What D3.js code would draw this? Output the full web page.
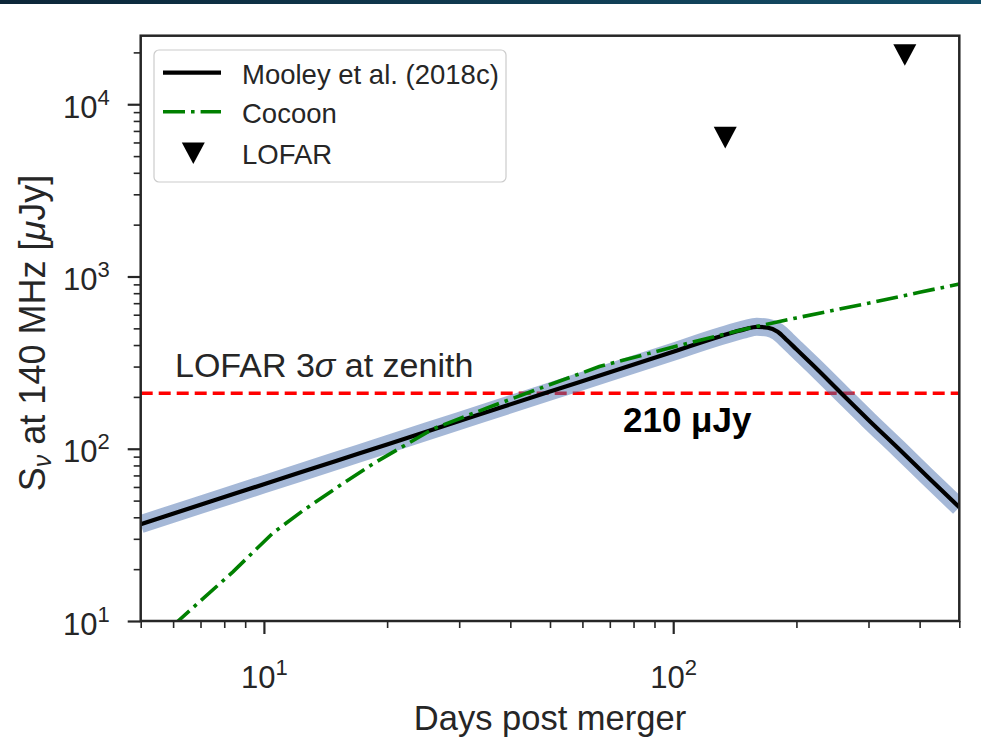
<!DOCTYPE html>
<html><head><meta charset="utf-8">
<script src="https://cdn.jsdelivr.net/npm/d3@7"></script>
<style>body{margin:0;background:#fff} svg{display:block}</style>
</head><body>
<script>
// ---- data ----
const mooleyDays = [5, 7, 10, 15, 20, 30, 50, 70, 100, 130, 150, 160, 170, 180, 190, 200, 220, 257, 300, 354, 420, 500];
const mooleyFlux = [36.5, 47.3, 62.2, 85, 106, 145, 215, 278, 366, 449, 495, 510, 505, 478, 425, 378, 304, 211, 147, 101, 68, 45.7];
const cocoonDays = [6.0, 6.2, 8.4, 10.5, 12.5, 15.3, 18.5, 22.3, 26, 35, 45, 66, 100, 155, 200, 300, 400, 500];
const cocoonFlux = [9.4, 10.1, 19.3, 32.3, 44, 61, 82, 106, 131, 172, 215, 300, 390, 505, 575, 700, 810, 905];
const lofarDays = [134, 368];
const lofarFlux = [6400, 19300];
const thresholdFlux = 210;
const xMajorTicks = [10, 100];
const xMajorExp = ["1", "2"];
const xMinorTicks = [5, 6, 7, 8, 9, 20, 30, 40, 50, 60, 70, 80, 90, 200, 300, 400, 500];
const yMajorTicks = [10, 100, 1000, 10000];
const yMajorExp = ["1", "2", "3", "4"];
const yMinorTicks = [20, 30, 40, 50, 60, 70, 80, 90, 200, 300, 400, 500, 600, 700, 800, 900,
                     2000, 3000, 4000, 5000, 6000, 7000, 8000, 9000, 20000];
const legendLabels = ["Mooley et al. (2018c)", "Cocoon", "LOFAR"];

// ---- layout ----
const W = 981, H = 739;
const L = 140.7, R = 959.3, T = 35.7, B = 621;
const FONT = "'Liberation Sans', Arial, Helvetica, sans-serif";
const TXT = "#262626";

const svg = d3.select("body").append("svg").attr("width", W).attr("height", H)
  .style("font-family", FONT);

// top banner strip
const defs = svg.append("defs");
const grad = defs.append("linearGradient").attr("id", "ban").attr("x1", 0).attr("x2", 1);
grad.append("stop").attr("offset", 0).attr("stop-color", "#0c2638");
grad.append("stop").attr("offset", 1).attr("stop-color", "#134e68");
svg.append("rect").attr("x", 0).attr("y", 0).attr("width", W).attr("height", 4).attr("fill", "url(#ban)");

defs.append("clipPath").attr("id", "clip").append("rect")
  .attr("x", L).attr("y", T).attr("width", R - L).attr("height", B - T);

const x = d3.scaleLog().domain([5, 500]).range([L, R]);
const y = d3.scaleLog().domain([10, 25000]).range([B, T]);

const plot = svg.append("g").attr("clip-path", "url(#clip)");

// threshold line
plot.append("line")
  .attr("x1", x(5)).attr("x2", x(500)).attr("y1", y(thresholdFlux)).attr("y2", y(thresholdFlux))
  .attr("stroke", "#ff0000").attr("stroke-width", 3.5).attr("stroke-dasharray", "12,6");

const mooley = mooleyDays.map((d, i) => [d, mooleyFlux[i]]);
const cocoon = cocoonDays.map((d, i) => [d, cocoonFlux[i]]);
const line = d3.line().x(d => x(d[0])).y(d => y(d[1])).curve(d3.curveMonotoneX);
const lineLin = d3.line().x(d => x(d[0])).y(d => y(d[1]));

plot.append("path").attr("d", line(mooley)).attr("fill", "none")
  .attr("stroke", "#4c72b0").attr("stroke-opacity", 0.5).attr("stroke-width", 18)
  .attr("stroke-linejoin", "round");
plot.append("path").attr("d", line(mooley)).attr("fill", "none")
  .attr("stroke", "#000").attr("stroke-width", 4.2).attr("stroke-linejoin", "round");
plot.append("path").attr("d", lineLin(cocoon)).attr("fill", "none")
  .attr("stroke", "#008000").attr("stroke-width", 3.6).attr("stroke-dasharray", "22,6,3.6,6");

// LOFAR upper limits: downward triangle marker (matplotlib 'v')
const vMarker = { draw(ctx, size) { const r = Math.sqrt(size) / 2;
  ctx.moveTo(-r, -r * 0.94); ctx.lineTo(r, -r * 0.94); ctx.lineTo(0, r * 0.94); ctx.closePath(); } };
const tri = d3.symbol().type(vMarker).size(23 * 23);
plot.selectAll("path.lofar").data(lofarDays.map((d, i) => [d, lofarFlux[i]])).join("path")
  .attr("class", "lofar").attr("d", tri)
  .attr("transform", d => `translate(${x(d[0])},${y(d[1])})`).attr("fill", "#000");

// annotations
svg.append("text").attr("x", 175).attr("y", 377).attr("font-size", 34).attr("fill", TXT)
  .call(t => {
    t.append("tspan").text("LOFAR 3");
    t.append("tspan").attr("font-style", "italic").text("σ");
    t.append("tspan").text(" at zenith");
  });
svg.append("text").attr("x", 623).attr("y", 432).attr("font-size", 35).attr("font-weight", "bold")
  .attr("fill", "#000").text("210 μJy");

// axes
const tickStyle = g => {
  g.select(".domain").remove();
  g.selectAll(".tick line").attr("stroke", "#262626");
};
function supLabel(sel, exps, anchor, dx, dy) {
  sel.each(function (d, i) {
    const t = d3.select(this).append("text").attr("fill", TXT).attr("font-size", 31)
      .attr("text-anchor", anchor).attr("x", dx).attr("y", dy);
    t.append("tspan").text("10");
    t.append("tspan").attr("dy", -13).attr("font-size", 22).text(exps[i]);
  });
}
const gxMinor = svg.append("g").attr("transform", `translate(0,${B})`)
  .call(d3.axisBottom(x).tickValues(xMinorTicks).tickSize(7).tickFormat(() => "")).call(tickStyle);
gxMinor.selectAll(".tick line").attr("stroke-width", 1.6);
const gxMajor = svg.append("g").attr("transform", `translate(0,${B})`)
  .call(d3.axisBottom(x).tickValues(xMajorTicks).tickSize(13).tickFormat(() => "")).call(tickStyle);
gxMajor.selectAll(".tick line").attr("stroke-width", 2.2);
gxMajor.selectAll(".tick text").remove();
supLabel(gxMajor.selectAll(".tick"), xMajorExp, "middle", 0, 67);

const gyMinor = svg.append("g").attr("transform", `translate(${L},0)`)
  .call(d3.axisLeft(y).tickValues(yMinorTicks).tickSize(7).tickFormat(() => "")).call(tickStyle);
gyMinor.selectAll(".tick line").attr("stroke-width", 1.6);
const gyMajor = svg.append("g").attr("transform", `translate(${L},0)`)
  .call(d3.axisLeft(y).tickValues(yMajorTicks).tickSize(13).tickFormat(() => "")).call(tickStyle);
gyMajor.selectAll(".tick line").attr("stroke-width", 2.2);
gyMajor.selectAll(".tick text").remove();
supLabel(gyMajor.selectAll(".tick"), yMajorExp, "end", -31, 13);

// frame
svg.append("rect").attr("x", L).attr("y", T).attr("width", R - L).attr("height", B - T)
  .attr("fill", "none").attr("stroke", "#262626").attr("stroke-width", 2.5);

// axis labels
svg.append("text").attr("x", (L + R) / 2).attr("y", 730).attr("text-anchor", "middle")
  .attr("font-size", 34.5).attr("fill", TXT).text("Days post merger");
svg.append("text").attr("transform", `translate(45,333) rotate(-90)`)
  .attr("text-anchor", "middle").attr("font-size", 36).attr("fill", TXT)
  .call(t => {
    t.append("tspan").text("S");
    t.append("tspan").attr("font-style", "italic").attr("font-size", 25).attr("dy", 6).text("ν");
    t.append("tspan").attr("dy", -6).text(" at 140 MHz [");
    t.append("tspan").attr("font-style", "italic").text("μ");
    t.append("tspan").text("Jy]");
  });

// legend
const lg = svg.append("g");
lg.append("rect").attr("x", 154).attr("y", 50).attr("width", 352).attr("height", 132).attr("rx", 5)
  .attr("fill", "#fff").attr("fill-opacity", 0.8).attr("stroke", "#cccccc").attr("stroke-width", 1.2);
const rowY = [72.7, 111.7, 153.3];
lg.append("line").attr("x1", 163).attr("x2", 221).attr("y1", rowY[0]).attr("y2", rowY[0])
  .attr("stroke", "#000").attr("stroke-width", 4.2);
lg.append("line").attr("x1", 163).attr("x2", 221).attr("y1", rowY[1]).attr("y2", rowY[1])
  .attr("stroke", "#008000").attr("stroke-width", 3.6).attr("stroke-dasharray", "22,6,3.6,6");
lg.append("path").attr("d", tri).attr("transform", `translate(193.3,${rowY[2]})`).attr("fill", "#000");
lg.selectAll("text.leg").data(legendLabels).join("text").attr("class", "leg")
  .attr("x", 242).attr("y", (d, i) => rowY[i] + 11).attr("font-size", 27.5).attr("fill", TXT).text(d => d);
</script>
</body></html>
